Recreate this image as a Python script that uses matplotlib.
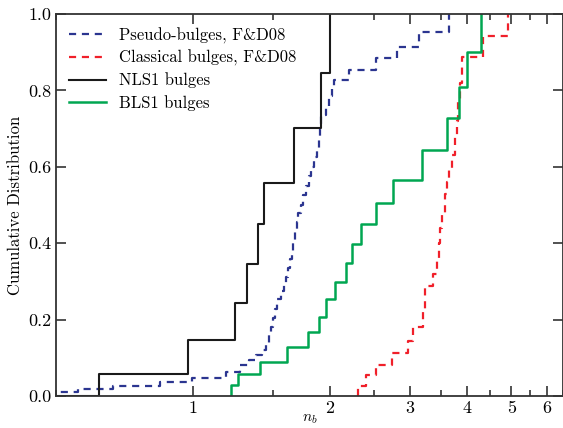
import matplotlib
matplotlib.use('Agg')
import matplotlib.pyplot as plt
from matplotlib.ticker import FixedLocator, MultipleLocator, FixedFormatter, FormatStrFormatter

plt.rcParams['font.family'] = 'cmr10'
plt.rcParams['mathtext.fontset'] = 'cm'
plt.rcParams['axes.formatter.use_mathtext'] = True

# step positions (n_b) and cumulative levels
pseudo_x = [0.45, 0.558, 0.666, 0.845, 0.993, 1.180, 1.266, 1.326, 1.373, 1.416,
            1.445, 1.467, 1.482, 1.497, 1.512, 1.528, 1.558, 1.582, 1.598, 1.615,
            1.631, 1.648, 1.661, 1.673, 1.690, 1.703, 1.725, 1.743, 1.769, 1.796,
            1.814, 1.842, 1.870, 1.889, 1.904, 1.913, 1.957, 1.987, 2.017, 2.038,
            2.199, 2.520, 2.803, 3.133, 3.648]
pseudo_y = [0.011, 0.018, 0.026, 0.036, 0.048, 0.064, 0.080, 0.095, 0.107, 0.120,
            0.137, 0.160, 0.180, 0.205, 0.228, 0.255, 0.275, 0.290, 0.312, 0.335,
            0.358, 0.380, 0.405, 0.430, 0.455, 0.478, 0.500, 0.525, 0.550, 0.575,
            0.600, 0.625, 0.650, 0.675, 0.700, 0.735, 0.760, 0.785, 0.810, 0.827,
            0.853, 0.884, 0.914, 0.954, 1.0]

classical_x = [2.301, 2.301, 2.397, 2.520, 2.734, 2.964, 3.040, 3.198, 3.231, 3.365,
               3.433, 3.467, 3.493, 3.520, 3.574, 3.611, 3.648, 3.704, 3.760, 3.798,
               3.827, 3.856, 3.895, 4.331, 4.917]
classical_y = [0.0, 0.027, 0.055, 0.081, 0.113, 0.145, 0.181, 0.220, 0.288, 0.320,
               0.360, 0.400, 0.440, 0.480, 0.530, 0.560, 0.597, 0.630, 0.679, 0.720,
               0.770, 0.820, 0.888, 0.942, 1.0]

nls1_x = [0.45, 0.621, 0.975, 1.239, 1.317, 1.387, 1.432, 1.670, 1.909, 2.004]
nls1_y = [0.0, 0.058, 0.147, 0.243, 0.345, 0.450, 0.558, 0.701, 0.845, 1.0]

bls1_x = [1.214, 1.214, 1.256, 1.402, 1.611, 1.787, 1.896, 1.957, 2.054, 2.166,
          2.239, 2.345, 2.520, 2.752, 3.186, 3.615, 3.837, 4.002, 4.303]
bls1_y = [0.0, 0.029, 0.058, 0.088, 0.127, 0.167, 0.208, 0.253, 0.299, 0.347,
          0.397, 0.449, 0.504, 0.565, 0.644, 0.727, 0.810, 0.900, 1.0]

x_ticks = [1, 2, 3, 4, 5, 6]
y_ticks = [0.0, 0.2, 0.4, 0.6, 0.8, 1.0]

fig = plt.figure(figsize=(5.63, 4.28), dpi=100)
ax = fig.add_axes([0.0995, 0.0748, 0.9005, 0.8925])

dash = (0, (3.2, 2.6))
ax.step(pseudo_x, pseudo_y, where='post', color='#2b3590', lw=1.6, linestyle=dash,
        label='Pseudo-bulges, F&D08')
ax.step(classical_x, classical_y, where='post', color='#f0202a', lw=1.6, linestyle=dash,
        label='Classical bulges, F&D08')
ax.step(nls1_x, nls1_y, where='post', color='#1a1a1a', lw=1.5, label='NLS1 bulges')
ax.step(bls1_x, bls1_y, where='post', color='#00a651', lw=1.8, label='BLS1 bulges')

ax.set_xscale('log')
ax.set_xlim(0.5, 6.5)
ax.set_ylim(0, 1)

ax.xaxis.set_major_locator(FixedLocator(x_ticks))
ax.xaxis.set_major_formatter(FixedFormatter([str(t) for t in x_ticks]))
ax.xaxis.set_minor_locator(MultipleLocator(0.5))
ax.xaxis.set_minor_formatter(FixedFormatter([]))
ax.yaxis.set_major_locator(FixedLocator(y_ticks))
ax.yaxis.set_major_formatter(FormatStrFormatter('%.1f'))

ax.tick_params(which='both', direction='in', top=True, right=True, labelsize=13,
               color='#222222', width=1.1)
ax.tick_params(which='major', length=7)
ax.tick_params(which='minor', length=4)
ax.tick_params(axis='y', pad=3)
for s in ax.spines.values():
    s.set_linewidth(1.3)
    s.set_color('#333333')

ax.set_xlabel('$n_b$', fontsize=11, labelpad=-3)
ax.set_ylabel('Cumulative Distribution', fontsize=12, labelpad=4)

ax.legend(loc='upper left', frameon=False, fontsize=12, handlelength=2.2,
          handletextpad=0.8, labelspacing=0.38, borderaxespad=0.4)

fig.savefig('out.png', dpi=100)
